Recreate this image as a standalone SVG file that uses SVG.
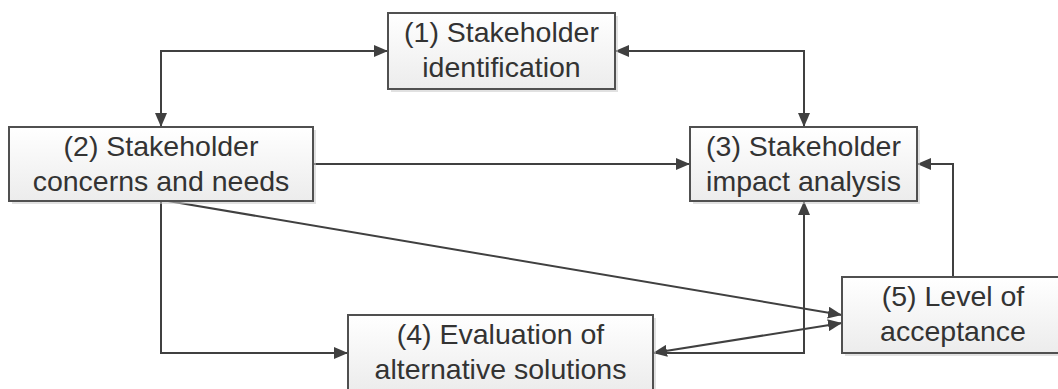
<svg xmlns="http://www.w3.org/2000/svg" width="1058" height="389" viewBox="0 0 1058 389">
  <defs>
    <linearGradient id="boxfill" x1="0" y1="0" x2="0" y2="1">
      <stop offset="0" stop-color="#ffffff"/>
      <stop offset="1" stop-color="#ececec"/>
    </linearGradient>
    <marker id="arrow" viewBox="0 0 14 12" markerUnits="userSpaceOnUse" markerWidth="14" markerHeight="12" refX="14" refY="6" orient="auto-start-reverse">
      <path d="M0,0 L14,6 L0,12 z" fill="#404040"/>
    </marker>
    <style>
      .shadow { fill: #c8c8c8; opacity: 0.55; }
      .box { fill: url(#boxfill); stroke: #505050; stroke-width: 2; }
      .label { font-family: "Liberation Sans", Arial, sans-serif; font-size: 28.5px; fill: #333333; text-anchor: middle; }
      .conn { fill: none; stroke: #404040; stroke-width: 2; }
      .end { marker-end: url(#arrow); }
      .both { marker-start: url(#arrow); marker-end: url(#arrow); }
    </style>
  </defs>
  <rect width="1058" height="389" fill="#ffffff"/>

  <g id="connectors">
    <path class="conn both" d="M388,51 H161 V127"/>
    <path class="conn both" d="M615,51 H804 V127"/>
    <path class="conn end" d="M313,164 H690"/>
    <path class="conn end" d="M161,201 V353 H348"/>
    <path class="conn end" d="M168,201 L842,315"/>
    <path class="conn both" d="M653,353 L842,323"/>
    <path class="conn end" d="M653,353 H804 V201"/>
    <path class="conn end" d="M953,277 V164 H917"/>
  </g>

  <g id="node1">
    <rect class="shadow" x="391" y="16" width="227" height="76"/>
    <rect class="box" x="388" y="13" width="227" height="76"/>
    <text class="label" x="501.5" y="42">(1) Stakeholder</text>
    <text class="label" x="501.5" y="77">identification</text>
  </g>

  <g id="node2">
    <rect class="shadow" x="12" y="130" width="304" height="74"/>
    <rect class="box" x="9" y="127" width="304" height="74"/>
    <text class="label" x="161" y="156">(2) Stakeholder</text>
    <text class="label" x="161" y="191">concerns and needs</text>
  </g>

  <g id="node3">
    <rect class="shadow" x="693" y="130" width="227" height="74"/>
    <rect class="box" x="690" y="127" width="227" height="74"/>
    <text class="label" x="803.5" y="156">(3) Stakeholder</text>
    <text class="label" x="803.5" y="191">impact analysis</text>
  </g>

  <g id="node4">
    <rect class="shadow" x="351" y="318" width="305" height="76"/>
    <rect class="box" x="348" y="315" width="305" height="76"/>
    <text class="label" x="500.5" y="344">(4) Evaluation of</text>
    <text class="label" x="500.5" y="379">alternative solutions</text>
  </g>

  <g id="node5">
    <rect class="shadow" x="845" y="280" width="222" height="76"/>
    <rect class="box" x="842" y="277" width="222" height="76"/>
    <text class="label" x="953" y="306">(5) Level of</text>
    <text class="label" x="953" y="341">acceptance</text>
  </g>
</svg>
